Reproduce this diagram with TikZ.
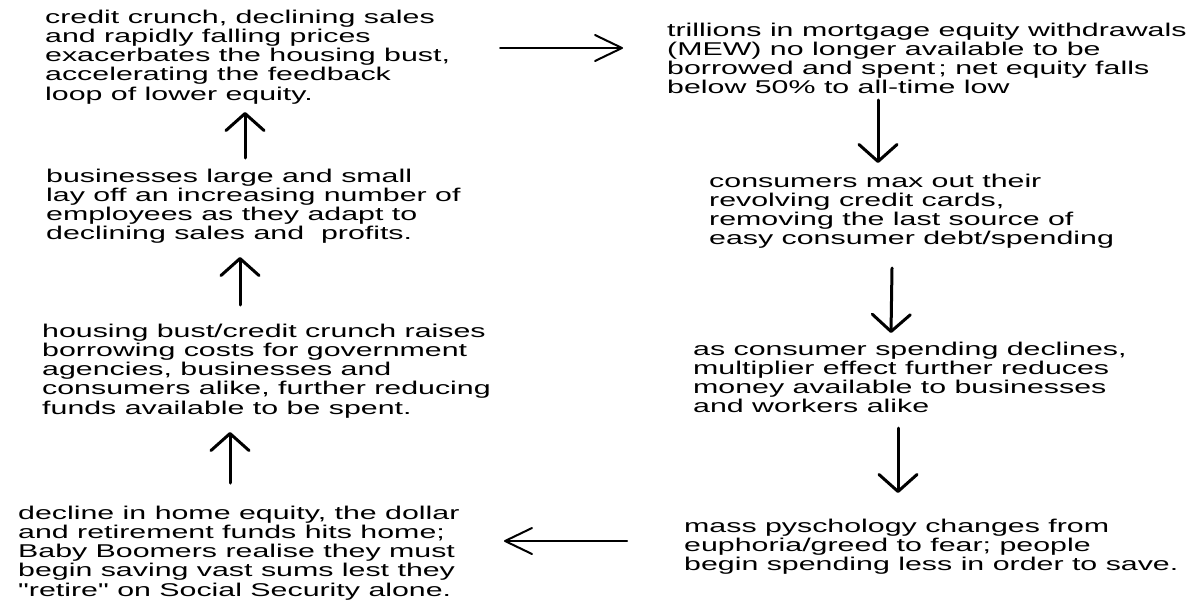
\documentclass[tikz,border=0pt]{standalone}
\usepackage{fontspec}
\setmainfont{Liberation Sans}[FakeStretch=1.64,Ligatures=TeXOff]
\usetikzlibrary{arrows.meta}
\begin{document}
\begin{tikzpicture}[x=1pt,y=-1pt,
  txt/.style={anchor=north west, inner sep=0pt, align=left,
    font=\fontsize{18.5}{19.2}\selectfont},
  varr/.style={line width=3pt, line cap=round,
    -{Straight Barb[length=17pt,width=38pt,round]}},
  harr/.style={line width=2pt, line cap=round,
    -{Straight Barb[length=27pt,width=26pt,round]}}]
\useasboundingbox (0,0) rectangle (1198,602);
\def\st{\rule{0pt}{13.5pt}}
\node[txt] (a) at (45,9.5) {\st credit crunch, declining sales\\and rapidly falling prices\\exacerbates the housing bust,\\accelerating the feedback\\loop of lower equity.};
\node[txt] (b) at (667,22.5) {\st trillions in mortgage equity withdrawals\\(MEW) no longer available to be\\borrowed and spent\,; net equity falls\\below 50\% to all-time low};
\node[txt] (c) at (709,173.5) {\st consumers max out their\\revolving credit cards,\\removing the last source of\\easy consumer debt/spending};
\node[txt] (d) at (693,341.5) {\st as consumer spending declines,\\multiplier effect further reduces\\money available to businesses\\and workers alike};
\node[txt] (e) at (684,518.5) {\st mass pyschology changes from\\euphoria/greed to fear; people\\begin spending less in order to save.};
\node[txt] (f) at (18,505.5) {\st decline in home equity, the dollar\\and retirement funds hits home;\\Baby Boomers realise they must\\begin saving vast sums lest they\\"retire" on Social Security alone.};
\node[txt] (g) at (42,323.5) {\st housing bust/credit crunch raises\\borrowing costs for government\\agencies, businesses and\\consumers alike, further reducing\\funds available to be spent.};
\node[txt] (h) at (46,168.5) {\st businesses large and small\\lay off an increasing number of\\employees as they adapt to\\declining sales and\ \ profits.};
% arrow end points
\coordinate (ab1) at (500,48);  \coordinate (ab2) at (623,48);
\coordinate (bc1) at (878,100); \coordinate (bc2) at (878,163);
\coordinate (cd1) at (892,268); \coordinate (cd2) at (891,333);
\coordinate (de1) at (898,428); \coordinate (de2) at (898,493);
\coordinate (ef1) at (627,541); \coordinate (ef2) at (504,541);
\coordinate (fg1) at (230,483); \coordinate (fg2) at (230,432);
\coordinate (gh1) at (240,305); \coordinate (gh2) at (240,257);
\coordinate (ha1) at (245,158); \coordinate (ha2) at (245,112);
\draw[harr] (ab1) -- (ab2);
\draw[varr] (bc1) -- (bc2);
\draw[varr] (cd1) -- (cd2);
\draw[varr] (de1) -- (de2);
\draw[harr] (ef1) -- (ef2);
\draw[varr] (fg1) -- (fg2);
\draw[varr] (gh1) -- (gh2);
\draw[varr] (ha1) -- (ha2);
\end{tikzpicture}
\end{document}
